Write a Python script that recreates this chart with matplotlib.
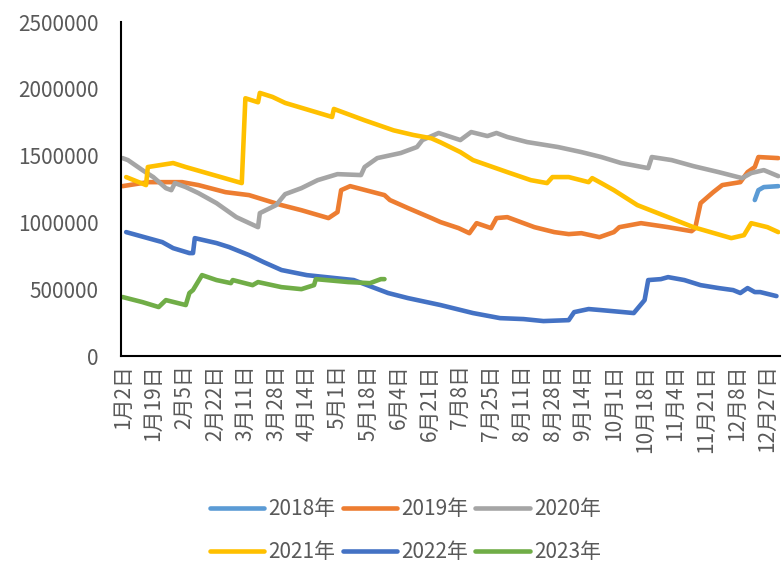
import matplotlib
matplotlib.use('Agg')
import matplotlib.pyplot as plt

plt.rcParams['font.family'] = ['Noto Sans CJK SC', 'DejaVu Sans']

# eixo x: dia do ano (0 = 1月2日)
tick_days = list(range(0, 358, 17))
tick_labels = ['1月2日', '1月19日', '2月5日', '2月22日', '3月11日', '3月28日', '4月14日',
               '5月1日', '5月18日', '6月4日', '6月21日', '7月8日', '7月25日', '8月11日',
               '8月28日', '9月14日', '10月1日', '10月18日', '11月4日', '11月21日',
               '12月8日', '12月27日']

days_2018 = [350, 352, 355, 363]
vals_2018 = [1168, 1242, 1265, 1272]

days_2019 = [0, 14, 33, 42, 57, 70, 88, 99, 114, 119, 121, 126, 145, 148, 158, 171, 176,
             186, 192, 196, 204, 207, 213, 228, 239, 247, 254, 264, 272, 275, 287, 302,
             315, 317, 320, 327, 332, 342, 346, 350, 352, 363]
vals_2019 = [1272, 1302, 1302, 1280, 1227, 1205, 1130, 1092, 1033, 1078, 1242, 1272, 1205,
             1168, 1108, 1033, 1003, 958, 920, 995, 958, 1033, 1040, 965, 928, 913, 920,
             890, 928, 965, 995, 965, 935, 958, 1145, 1227, 1280, 1302, 1377, 1415, 1490,
             1482]

days_2020 = [0, 3, 11, 17, 24, 27, 29, 35, 42, 52, 63, 75, 76, 85, 90, 99, 108, 119, 132,
             134, 141, 154, 163, 166, 175, 187, 193, 202, 207, 213, 224, 241, 254, 265,
             276, 291, 293, 304, 316, 330, 343, 348, 355, 363]
vals_2020 = [1482, 1467, 1392, 1340, 1257, 1242, 1295, 1265, 1220, 1145, 1040, 965, 1070,
             1130, 1212, 1257, 1317, 1362, 1355, 1415, 1482, 1520, 1565, 1617, 1670, 1617,
             1677, 1647, 1670, 1640, 1602, 1565, 1527, 1490, 1445, 1407, 1490, 1467, 1422,
             1377, 1332, 1370, 1392, 1347]

days_2021 = [2, 13, 14, 28, 35, 66, 68, 75, 76, 83, 90, 116, 117, 122, 134, 150, 161, 171,
             176, 187, 194, 213, 226, 235, 238, 247, 258, 260, 265, 272, 285, 302, 316,
             337, 344, 348, 357, 363]
vals_2021 = [1340, 1280, 1415, 1445, 1415, 1295, 1930, 1900, 1970, 1940, 1895, 1790, 1850,
             1825, 1765, 1690, 1655, 1630, 1600, 1527, 1467, 1377, 1317, 1295, 1340, 1340,
             1302, 1332, 1295, 1242, 1130, 1040, 965, 883, 905, 995, 965, 928]

days_2022 = [2, 14, 22, 28, 37, 39, 40, 52, 59, 70, 78, 88, 102, 128, 147, 158, 176, 194,
             209, 222, 233, 247, 250, 258, 265, 283, 289, 291, 298, 302, 311, 320, 330,
             338, 342, 346, 350, 353, 362]
vals_2022 = [928, 883, 853, 808, 771, 771, 883, 846, 816, 756, 704, 644, 606, 569, 472, 434,
             382, 322, 284, 277, 262, 269, 329, 352, 344, 322, 419, 569, 576, 591, 569,
             531, 509, 494, 472, 509, 479, 479, 449]

days_2023 = [0, 11, 20, 24, 35, 37, 39, 44, 52, 60, 61, 72, 75, 88, 99, 106, 107, 125, 137,
             143, 145]
vals_2023 = [442, 404, 367, 419, 382, 472, 494, 606, 569, 546, 569, 531, 554, 516, 501,
             531, 576, 554, 546, 576, 576]

series = [
    ('2018年', days_2018, vals_2018, '#5B9BD5'),
    ('2019年', days_2019, vals_2019, '#ED7D31'),
    ('2020年', days_2020, vals_2020, '#A5A5A5'),
    ('2021年', days_2021, vals_2021, '#FFC000'),
    ('2022年', days_2022, vals_2022, '#4472C4'),
    ('2023年', days_2023, vals_2023, '#70AD47'),
]

fig = plt.figure(figsize=(7.84, 5.67), dpi=100)
ax = fig.add_axes([0.154, 0.372, 0.841, 0.589])

lines = []
for name, d, v, c in series:
    ln, = ax.plot(d, [x * 1000 for x in v], color=c, lw=3.3, label=name,
                  solid_capstyle='round', solid_joinstyle='round')
    lines.append(ln)

ax.set_xlim(-1, 364)
ax.set_ylim(0, 2500000)
ax.set_yticks(range(0, 2500001, 500000))
ax.set_yticklabels([str(t) for t in range(0, 2500001, 500000)])
ax.set_xticks(tick_days)
ax.set_xticklabels(tick_labels, rotation=90)

ax.tick_params(axis='both', length=0, labelsize=15, colors='#595959')
ax.tick_params(axis='y', pad=16)
ax.tick_params(axis='x', pad=6)
for s in ['top', 'right']:
    ax.spines[s].set_visible(False)
for s in ['left', 'bottom']:
    ax.spines[s].set_color('black')
    ax.spines[s].set_linewidth(1.5)

# matplotlib preenche a legenda por coluna: reordena para ficar por linha
order = [0, 3, 1, 4, 2, 5]
leg = fig.legend([lines[i] for i in order], [series[i][0] for i in order],
                 loc='center', bbox_to_anchor=(0.517, 0.064), ncol=3, frameon=False,
                 fontsize=15, handlelength=2.6, handletextpad=0.2, columnspacing=0.35,
                 labelspacing=1.0)
for t in leg.get_texts():
    t.set_color('#595959')

fig.savefig('out.png', dpi=100)
